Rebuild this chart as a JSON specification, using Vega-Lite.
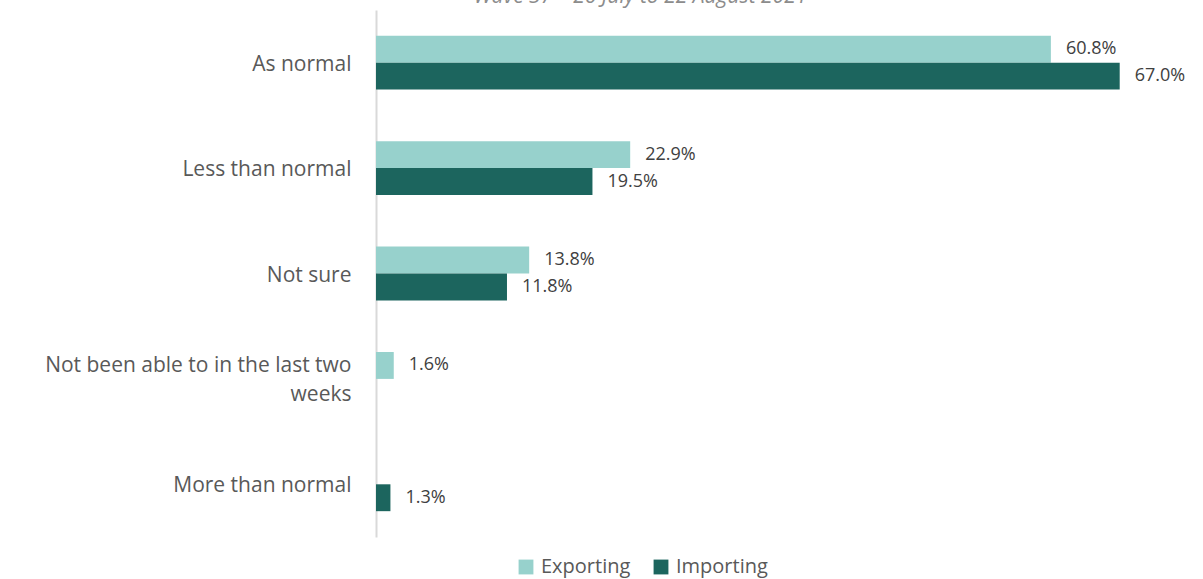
{
  "$schema": "https://vega.github.io/schema/vega-lite/v6.json",
  "autosize": {"type": "none"},
  "width": 777,
  "height": 527,
  "padding": {"left": 376, "top": 10, "right": 50, "bottom": 42},
  "background": "white",
  "title": {
    "text": "Wave 37 – 26 July to 22 August 2021",
    "font": "Open Sans",
    "fontSize": 21,
    "fontStyle": "italic",
    "fontWeight": "normal",
    "color": "#8c8c8c",
    "anchor": "middle",
    "frame": "group",
    "dx": -124,
    "baseline": "alphabetic",
    "offset": 0,
    "dy": 14
  },
  "config": {
    "view": {"stroke": null},
    "font": "Open Sans"
  },
  "data": {
    "values": [
      {"category": "As normal", "series": "Exporting", "value": 60.8, "label": "60.8%"},
      {"category": "As normal", "series": "Importing", "value": 67.0, "label": "67.0%"},
      {"category": "Less than normal", "series": "Exporting", "value": 22.9, "label": "22.9%"},
      {"category": "Less than normal", "series": "Importing", "value": 19.5, "label": "19.5%"},
      {"category": "Not sure", "series": "Exporting", "value": 13.8, "label": "13.8%"},
      {"category": "Not sure", "series": "Importing", "value": 11.8, "label": "11.8%"},
      {"category": "Not been able to in the last two weeks", "series": "Exporting", "value": 1.6, "label": "1.6%"},
      {"category": "More than normal", "series": "Importing", "value": 1.3, "label": "1.3%"}
    ]
  },
  "encoding": {
    "y": {
      "field": "category",
      "type": "nominal",
      "sort": ["As normal", "Less than normal", "Not sure", "Not been able to in the last two weeks", "More than normal"],
      "scale": {"paddingInner": 0.49, "paddingOuter": 0.245},
      "axis": {
        "title": null,
        "ticks": false,
        "domain": true,
        "domainColor": "#d9d9d9",
        "domainWidth": 2,
        "labelFont": "Open Sans",
        "labelFontSize": 21,
        "labelColor": "#595959",
        "labelPadding": 25,
        "labelLineHeight": 29,
        "labelLimit": 400,
        "labelOffset": {"condition": {"test": "datum.value == 'Not been able to in the last two weeks'", "value": -13}, "value": 2},
        "labelExpr": "datum.value == 'Not been able to in the last two weeks' ? ['Not been able to in the last two', 'weeks'] : datum.value"
      }
    },
    "yOffset": {
      "field": "series",
      "type": "nominal",
      "scale": {"domain": ["Exporting", "Importing"], "paddingInner": 0, "paddingOuter": 0}
    },
    "x": {
      "field": "value",
      "type": "quantitative",
      "scale": {"domain": [0, 70], "nice": false},
      "axis": null
    }
  },
  "layer": [
    {
      "mark": {"type": "bar"},
      "encoding": {
        "color": {
          "field": "series",
          "type": "nominal",
          "scale": {"domain": ["Exporting", "Importing"], "range": ["#97d1cc", "#1c655e"]},
          "legend": {
            "title": null,
            "orient": "none",
            "direction": "horizontal",
            "legendX": 140,
            "legendY": 547,
            "symbolType": "square",
            "symbolSize": 220,
            "symbolStrokeWidth": 0,
            "labelFont": "Open Sans",
            "labelFontSize": 20,
            "labelColor": "#595959",
            "columnPadding": 20,
            "labelOffset": 5
          }
        }
      }
    },
    {
      "mark": {"type": "text", "align": "left", "baseline": "middle", "dx": 15, "fontSize": 18, "font": "Open Sans", "color": "#404040"},
      "encoding": {
        "text": {"field": "label"}
      }
    }
  ]
}
